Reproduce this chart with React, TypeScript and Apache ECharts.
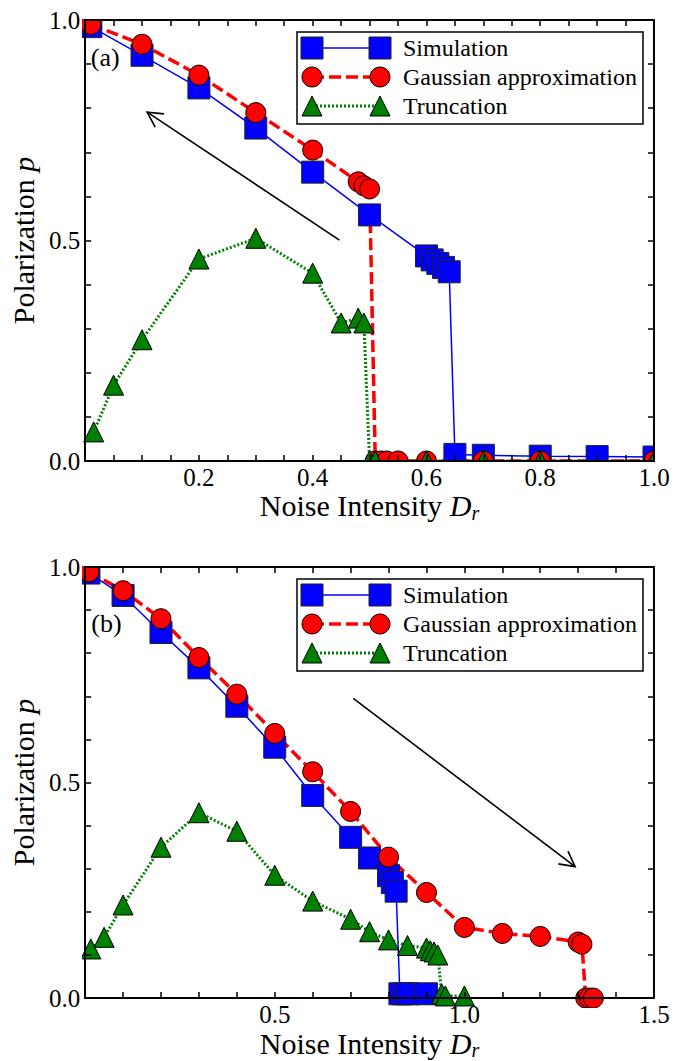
import React, { useEffect, useRef } from 'react';
import * as echarts from 'echarts';

// ---------- Panel (a) ----------
const simAX = [0.01, 0.1, 0.2, 0.3, 0.4, 0.5, 0.6, 0.61, 0.62, 0.63, 0.64, 0.65, 0.7, 0.8, 0.9, 1.0];
const simAY = [0.985, 0.92, 0.846, 0.755, 0.655, 0.558, 0.465, 0.456, 0.448, 0.439, 0.429, 0.015, 0.013, 0.011, 0.01, 0.009];
const gaussAX = [0.01, 0.1, 0.2, 0.3, 0.4, 0.48, 0.49, 0.5, 0.51, 0.52, 0.53, 0.55, 0.6, 0.7, 0.8, 1.0];
const gaussAY = [0.99, 0.945, 0.875, 0.79, 0.705, 0.633, 0.624, 0.617, 0, 0, 0, 0, 0, 0, 0, 0];
const truncAX = [0.015, 0.05, 0.1, 0.2, 0.3, 0.4, 0.45, 0.48, 0.49, 0.5, 0.51, 0.6, 0.7, 0.8, 1.0];
const truncAY = [0.066, 0.172, 0.275, 0.458, 0.505, 0.426, 0.313, 0.324, 0.313, 0, 0, 0, 0, 0, 0];

// ---------- Panel (b) ----------
const simBX = [0.01, 0.1, 0.2, 0.3, 0.4, 0.5, 0.6, 0.7, 0.75, 0.8, 0.81, 0.82, 0.83, 0.84, 0.85, 0.9];
const simBY = [0.986, 0.934, 0.848, 0.766, 0.677, 0.582, 0.47, 0.373, 0.325, 0.284, 0.268, 0.248, 0.01, 0.01, 0.01, 0.01];
const gaussBX = [0.01, 0.1, 0.2, 0.3, 0.4, 0.5, 0.6, 0.7, 0.8, 0.9, 1.0, 1.1, 1.2, 1.3, 1.31, 1.32, 1.33, 1.34];
const gaussBY = [0.989, 0.945, 0.88, 0.79, 0.705, 0.614, 0.525, 0.433, 0.327, 0.245, 0.164, 0.15, 0.143, 0.13, 0.125, 0, 0, 0];
const truncBX = [0.015, 0.05, 0.1, 0.2, 0.3, 0.4, 0.5, 0.6, 0.7, 0.75, 0.8, 0.85, 0.9, 0.91, 0.92, 0.93, 0.94, 0.95, 1.0];
const truncBY = [0.114, 0.141, 0.216, 0.35, 0.43, 0.387, 0.285, 0.225, 0.183, 0.154, 0.135, 0.122, 0.116, 0.11, 0.107, 0.1, 0.01, 0.005, 0.005];

const seriesNames = ['Simulation', 'Gaussian approximation', 'Truncation'];
const panelLabels = ['(a)', '(b)'];
const xMax = [1.0, 1.5];
const xTickStep = [0.05, 0.1];
const xLabelStep = [0.2, 0.5];

// annotation anchors in data coordinates
const arrowA = { from: [0.447, 0.501], to: [0.109, 0.791] };
const arrowB = { from: [0.707, 0.695], to: [1.292, 0.305] };
const labelPos = [[0.01, 0.916], [0.016, 0.868]];

const FONT = 'Liberation Serif';
const GRIDS = [
  { left: 83, top: 20, width: 571, height: 441 },
  { left: 83, top: 567, width: 571, height: 440 },
];

const STYLES = [
  { color: '#0000ff', width: 1.5, dash: 'solid' as any, symbol: 'rect', size: 22, border: '#222' },
  { color: '#ff0000', width: 3.5, dash: [12, 5], symbol: 'circle', size: 20, border: '#000' },
  { color: '#008000', width: 3, dash: [2, 2], symbol: 'triangle', size: 20, border: '#000' },
];

const zip = (xs: number[], ys: number[]) => xs.map((x, i) => [x, ys[i]]);

export default function App() {
  const ref = useRef<HTMLDivElement>(null);
  useEffect(() => {
    const chart = echarts.init(ref.current!, null, { renderer: 'svg' });

    const onStep = (v: number, step: number, allowZero: boolean) => {
      const r = v / step;
      if (!allowZero && v < 1e-9) return '';
      return Math.abs(r - Math.round(r)) < 1e-6 ? v.toFixed(1) : '';
    };

    const xAxes: any[] = [];
    const yAxes: any[] = [];
    [0, 1].forEach((g) => {
      const common = {
        gridIndex: g,
        type: 'value',
        min: 0,
        z: 10,
        splitLine: { show: false },
        axisLine: { show: true, onZero: false, lineStyle: { color: '#000', width: 2 } },
        axisTick: { show: true, inside: true, length: 6, lineStyle: { color: '#000', width: 1.5 } },
      };
      xAxes.push({
        ...common,
        position: 'bottom',
        max: xMax[g],
        interval: xTickStep[g],
        axisLabel: {
          show: true,
          margin: 4,
          color: '#000',
          fontFamily: FONT,
          fontSize: 25,
          formatter: (v: number) => onStep(v, xLabelStep[g], false),
        },
        name: '{a|Noise Intensity }{b|D}{c|r}',
        nameLocation: 'middle',
        nameGap: 25,
        nameTextStyle: {
          color: '#000',
          fontFamily: FONT,
          fontSize: 30,
          rich: {
            a: { fontFamily: FONT, fontSize: 30, color: '#000' },
            b: { fontFamily: FONT, fontSize: 30, fontStyle: 'italic', color: '#000' },
            c: { fontFamily: FONT, fontSize: 20, fontStyle: 'italic', color: '#000', padding: [14, 0, 0, 0] },
          },
        },
      });
      xAxes.push({
        ...common,
        position: 'top',
        max: xMax[g],
        interval: xTickStep[g],
        axisLabel: { show: false },
      });
      yAxes.push({
        ...common,
        position: 'left',
        max: 1,
        interval: 0.1,
        axisLabel: {
          show: true,
          margin: 5,
          color: '#000',
          fontFamily: FONT,
          fontSize: 25,
          formatter: (v: number) => onStep(v, 0.5, true),
        },
        name: '{a|Polarization }{b|p}',
        nameLocation: 'middle',
        nameRotate: 90,
        nameGap: 44,
        nameTextStyle: {
          color: '#000',
          fontFamily: FONT,
          fontSize: 30,
          rich: {
            a: { fontFamily: FONT, fontSize: 30, color: '#000' },
            b: { fontFamily: FONT, fontSize: 30, fontStyle: 'italic', color: '#000' },
          },
        },
      });
      yAxes.push({
        ...common,
        position: 'right',
        max: 1,
        interval: 0.1,
        axisLabel: { show: false },
      });
    });

    const mk = (i: number, xs: number[], ys: number[], g: number) => {
      const s = STYLES[i];
      return {
        type: 'line',
        name: seriesNames[i],
        xAxisIndex: g * 2,
        yAxisIndex: g * 2,
        data: zip(xs, ys),
        symbol: s.symbol,
        symbolSize: s.size,
        showAllSymbol: true,
        clip: false,
        lineStyle: { color: s.color, width: s.width, type: s.dash },
        itemStyle: { color: s.color, borderColor: s.border, borderWidth: 1, opacity: 1 },
        emphasis: { disabled: true },
      };
    };

    chart.setOption({
      animation: false,
      backgroundColor: '#fff',
      grid: GRIDS.map((g) => ({ ...g, containLabel: false })),
      xAxis: xAxes,
      yAxis: yAxes,
      series: [
        mk(0, simAX, simAY, 0),
        mk(1, gaussAX, gaussAY, 0),
        mk(2, truncAX, truncAY, 0),
        mk(0, simBX, simBY, 1),
        mk(1, gaussBX, gaussBY, 1),
        mk(2, truncBX, truncBY, 1),
      ],
    });

    const toPx = (g: number, p: number[]) => chart.convertToPixel({ gridIndex: g } as any, p) as number[];

    const graphics: any[] = [];
    // masks to clip markers to plot area
    const W = 683, H = 1061, split = 520;
    const masks = [
      [0, 0, GRIDS[0].left - 1, split],
      [GRIDS[0].left + GRIDS[0].width + 1, 0, W, split],
      [0, 0, W, GRIDS[0].top - 1],
      [0, GRIDS[0].top + GRIDS[0].height + 1, W, split],
      [0, split, GRIDS[1].left - 1, H],
      [GRIDS[1].left + GRIDS[1].width + 1, split, W, H],
      [0, split, W, GRIDS[1].top - 1],
      [0, GRIDS[1].top + GRIDS[1].height + 1, W, H],
    ];
    masks.forEach(([x1, y1, x2, y2]) =>
      graphics.push({ type: 'rect', z: 5, silent: true, shape: { x: x1, y: y1, width: x2 - x1, height: y2 - y1 }, style: { fill: '#fff' } })
    );

    // arrows
    const arrow = (g: number, a: { from: number[]; to: number[] }) => {
      const p0 = toPx(g, a.from), p1 = toPx(g, a.to);
      const ang = Math.atan2(p0[1] - p1[1], p0[0] - p1[0]);
      const L = 17, h = (28 * Math.PI) / 180;
      const h1 = [p1[0] + L * Math.cos(ang + h), p1[1] + L * Math.sin(ang + h)];
      const h2 = [p1[0] + L * Math.cos(ang - h), p1[1] + L * Math.sin(ang - h)];
      graphics.push({ type: 'line', z: 8, shape: { x1: p0[0], y1: p0[1], x2: p1[0], y2: p1[1] }, style: { stroke: '#000', lineWidth: 1.6 } });
      graphics.push({ type: 'polyline', z: 8, shape: { points: [h1, p1, h2] }, style: { stroke: '#000', lineWidth: 1.6, fill: 'none' } });
    };
    arrow(0, arrowA);
    arrow(1, arrowB);

    // panel labels
    [0, 1].forEach((g) => {
      const p = toPx(g, labelPos[g]);
      graphics.push({ type: 'text', z: 8, x: p[0], y: p[1], style: { text: panelLabels[g], fontFamily: FONT, fontSize: 26, fill: '#000', verticalAlign: 'middle', align: 'left' } });
    });

    // legends
    [0, 1].forEach((g) => {
      const gr = GRIDS[g];
      const bx = gr.left + 214, by = gr.top + 12, bw = 346, bh = 92;
      graphics.push({ type: 'rect', z: 20, shape: { x: bx, y: by, width: bw, height: bh }, style: { fill: '#fff', stroke: '#000', lineWidth: 1.5 } });
      const rowY = [16, 45, 74];
      STYLES.forEach((s, i) => {
        const cy = by + rowY[i];
        const xa = bx + 15, xb = bx + 83;
        graphics.push({ type: 'line', z: 21, shape: { x1: xa, y1: cy, x2: xb, y2: cy }, style: { stroke: s.color, lineWidth: s.width, lineDash: Array.isArray(s.dash) ? s.dash : null } });
        [xa, xb].forEach((cx) => {
          const r = s.size / 2;
          if (s.symbol === 'rect') {
            graphics.push({ type: 'rect', z: 22, shape: { x: cx - r, y: cy - r, width: s.size, height: s.size }, style: { fill: s.color, stroke: s.border, lineWidth: 1 } });
          } else if (s.symbol === 'circle') {
            graphics.push({ type: 'circle', z: 22, shape: { cx, cy, r }, style: { fill: s.color, stroke: s.border, lineWidth: 1 } });
          } else {
            graphics.push({ type: 'polygon', z: 22, shape: { points: [[cx, cy - r], [cx + r, cy + r], [cx - r, cy + r]] }, style: { fill: s.color, stroke: s.border, lineWidth: 1 } });
          }
        });
        graphics.push({ type: 'text', z: 22, x: bx + 106, y: cy, style: { text: seriesNames[i], fontFamily: FONT, fontSize: 24, fill: '#000', verticalAlign: 'middle', align: 'left' } });
      });
    });

    chart.setOption({ graphic: graphics });

    return () => chart.dispose();
  }, []);
  return <div ref={ref} style={{ position: 'fixed', left: 0, top: 0, width: 683, height: 1061, background: '#fff' }} />;
}
